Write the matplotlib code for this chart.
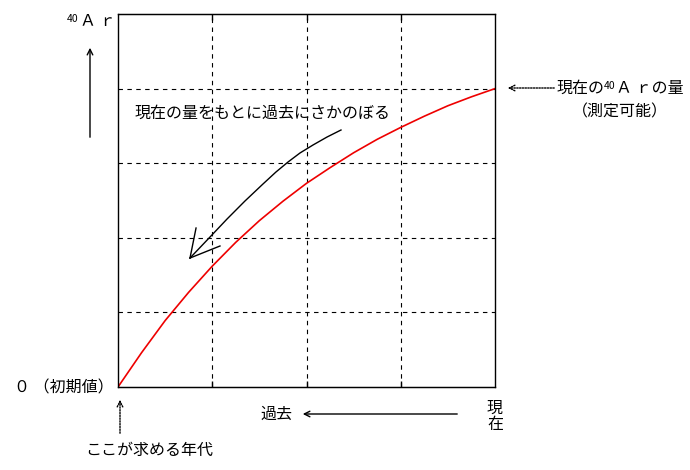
import matplotlib
matplotlib.use("Agg")
import matplotlib.pyplot as plt
from matplotlib.patches import FancyArrowPatch

plt.rcParams['font.family'] = ['Noto Sans CJK JP', 'DejaVu Sans']

# Data (x: time from origin, y: amount of 40Ar)
curve_x = [0, 0.25, 0.5, 0.75, 1.0, 1.25, 1.5, 1.75, 2.0, 2.25, 2.5, 2.75, 3.0, 3.25, 3.5, 3.75, 4.0]
curve_y = [0, 0.46, 0.89, 1.27, 1.62, 1.94, 2.23, 2.49, 2.73, 2.94, 3.14, 3.32, 3.48, 3.63, 3.77, 3.89, 4.0]
x_grid = [1, 2, 3]
y_grid = [1, 2, 3, 4]

# decorative arrow path (data coords)
arrow_x = [2.366, 2.218, 2.069, 1.931, 1.804, 1.676, 1.538, 1.347, 1.157, 0.966, 0.764]
arrow_y = [3.445, 3.351, 3.244, 3.137, 3.016, 2.882, 2.721, 2.493, 2.252, 1.997, 1.729]
head_x = [0.828, 1.082]
head_y = [2.131, 1.890]

W, H = 690, 470
fig = plt.figure(figsize=(6.9, 4.7), dpi=100)
ax = fig.add_axes([118 / W, 1 - 387 / H, (495 - 118) / W, (387 - 14) / H])
ax.set_xlim(0, 4)
ax.set_ylim(0, 5)

for xv in x_grid:
    ax.axvline(xv, color='black', lw=0.8, ls=(0, (4, 4)))
for yv in y_grid:
    ax.axhline(yv, color='black', lw=0.8, ls=(0, (4, 4)))

ax.plot(curve_x, curve_y, color='#ee0000', lw=1.2, solid_joinstyle='round')

# curved black arrow
ax.plot(arrow_x, arrow_y, color='black', lw=1.0, solid_joinstyle='round')
for hx, hy in zip(head_x, head_y):
    ax.plot([arrow_x[-1], hx], [arrow_y[-1], hy], color='black', lw=1.0)

ax.set_xticks(x_grid)
ax.set_yticks([])
ax.set_xticklabels([])
ax.tick_params(axis='x', which='both', direction='in', top=True, bottom=True, length=4, width=1)
for s in ax.spines.values():
    s.set_linewidth(1.0)
ax.spines['top'].set_linestyle((0, (0.72, 0.72)))
ax.spines['bottom'].set_linestyle((0, (0.72, 0.72)))


def fx(px):
    return px / W


def fy(py):
    return 1 - py / H


fs = 11.5
# y label
fig.text(fx(67), fy(19), '40', fontsize=7.5, va='center', ha='left')
fig.text(fx(80), fy(21), 'Ａ ｒ', fontsize=fs, va='center', ha='left')
fig.add_artist(FancyArrowPatch((fx(90), fy(140)), (fx(90), fy(45)),
               transform=fig.transFigure, arrowstyle='->', mutation_scale=10, lw=1.0, color='black'))

fig.text(fx(135), fy(113), '現在の量をもとに過去にさかのぼる', fontsize=fs, va='center', ha='left')

# right annotation
fig.add_artist(FancyArrowPatch((fx(557), fy(88)), (fx(505), fy(88)),
               transform=fig.transFigure, arrowstyle='->', mutation_scale=10, lw=1.0,
               linestyle=(0, (1, 1)), color='black'))
fig.text(fx(557), fy(88), '現在の', fontsize=fs, va='center', ha='left')
fig.text(fx(604), fy(86), '40', fontsize=7.5, va='center', ha='left')
fig.text(fx(616), fy(88), 'Ａ ｒの量', fontsize=fs, va='center', ha='left')
fig.text(fx(620), fy(112), '（測定可能）', fontsize=fs, va='center', ha='center')

# bottom-left
fig.text(fx(14), fy(388), '０ （初期値）', fontsize=fs, va='center', ha='left')
fig.add_artist(FancyArrowPatch((fx(120), fy(436)), (fx(120), fy(397)),
               transform=fig.transFigure, arrowstyle='->', mutation_scale=10, lw=1.0,
               linestyle=(0, (1, 1)), color='black'))
fig.text(fx(85), fy(450), 'ここが求める年代', fontsize=fs, va='center', ha='left')

# bottom axis annotation
fig.text(fx(260), fy(414), '過去', fontsize=fs, va='center', ha='left')
fig.add_artist(FancyArrowPatch((fx(460), fy(414)), (fx(300), fy(414)),
               transform=fig.transFigure, arrowstyle='->', mutation_scale=10, lw=1.0, color='black'))
fig.text(fx(495), fy(408), '現', fontsize=fs, va='center', ha='center')
fig.text(fx(495), fy(424), '在', fontsize=fs, va='center', ha='center')

fig.savefig('out.png', dpi=100)
